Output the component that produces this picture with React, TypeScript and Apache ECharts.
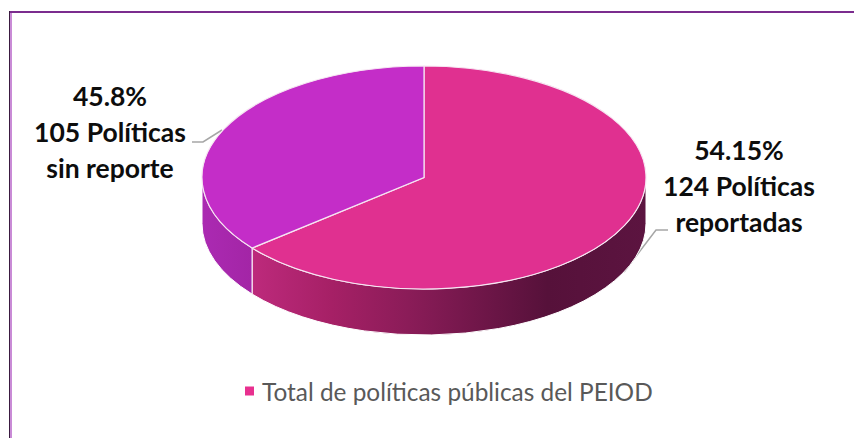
import React, { useEffect, useRef } from "react";
import * as echarts from "echarts";

const seriesName = "Total de políticas públicas del PEIOD";
const sliceNames = ["Políticas reportadas", "Políticas sin reporte"];
// Angular share of each slice as drawn in the picture (percent of the full turn)
const drawnShares = [64.1, 35.9];
const topColors = ["#e03090", "#c42dc8"];
const leftLabel = ["45.8%", "105 Políticas", "sin reporte"];
const rightLabel = ["54.15%", "124 Políticas", "reportadas"];

const CX = 424;
const CY = 177.5;
const RX = 222;
const RY = 111.5;
const DEPTH = 46;
const FONT = "Lato, 'Open Sans', sans-serif";

const pt = (deg: number, dy = 0) => {
  const a = (deg * Math.PI) / 180;
  return [CX + RX * Math.sin(a), CY - RY * Math.cos(a) + dy];
};

const wallFills: any[] = [
  {
    type: "linear", x: 252, y: 0, x2: 646, y2: 0, global: true,
    colorStops: [
      { offset: 0, color: "#bd2a7c" },
      { offset: 0.2, color: "#a62066" },
      { offset: 0.4, color: "#8a1c58" },
      { offset: 0.75, color: "#56113a" },
      { offset: 1, color: "#5c1440" },
    ],
  },
  {
    type: "linear", x: 202, y: 0, x2: 252, y2: 0, global: true,
    colorStops: [
      { offset: 0, color: "#ab2ab2" },
      { offset: 1, color: "#a325a6" },
    ],
  },
];

function renderSlice(params: any, api: any) {
  const i = params.dataIndex;
  const total = drawnShares.reduce((s, v) => s + v, 0);
  let before = 0;
  for (let k = 0; k < i; k++) before += drawnShares[k];
  const start = (before / total) * 360;
  const end = ((before + api.value(0)) / total) * 360;
  const children: any[] = [];

  // Side wall: only the front half of the rim (90..270 degrees from the top) is seen
  const ws = Math.max(start, 90);
  const we = Math.min(end, 270);
  if (we > ws) {
    const [x1, y1] = pt(ws);
    const [x2, y2] = pt(we);
    const d =
      `M${x1} ${y1}A${RX} ${RY} 0 0 1 ${x2} ${y2}` +
      `L${x2} ${y2 + DEPTH}A${RX} ${RY} 0 0 0 ${x1} ${y1 + DEPTH}Z`;
    children.push({
      type: "path",
      shape: { pathData: d },
      style: { fill: wallFills[i], stroke: "#ffffff", lineWidth: 1 },
    });
  }

  // Top face
  const [sx, sy] = pt(start);
  const [ex, ey] = pt(end);
  const large = end - start > 180 ? 1 : 0;
  children.push({
    type: "path",
    shape: {
      pathData: `M${CX} ${CY}L${sx} ${sy}A${RX} ${RY} 0 ${large} 1 ${ex} ${ey}Z`,
    },
    style: { fill: topColors[i], stroke: "#f6e6f2", lineWidth: 1.2 },
  });
  return { type: "group", children };
}

const labelText = (lines: string[], x: number, y: number) => ({
  type: "text",
  x,
  y,
  silent: true,
  style: {
    text: lines.join("\n"),
    font: `bold 26.5px ${FONT}`,
    lineHeight: 36,
    fill: "#0d0d0d",
    textAlign: "center",
    textVerticalAlign: "top",
  },
});

const leader = (points: number[][]) => ({
  type: "polyline",
  silent: true,
  shape: { points },
  style: { stroke: "#a6a6a6", lineWidth: 1.5, fill: "none" },
});

const border = (x: number, y: number, width: number, height: number, fill: string) => ({
  type: "rect",
  silent: true,
  shape: { x, y, width, height },
  style: { fill },
});

export default function App() {
  const ref = useRef<HTMLDivElement>(null);
  useEffect(() => {
    document.body.style.margin = "0";
    const chart = echarts.init(ref.current!, null, { renderer: "svg" });
    chart.setOption({
      animation: false,
      backgroundColor: "#ffffff",
      legend: {
        show: true,
        data: [{ name: seriesName, icon: "rect" }],
        left: 240,
        top: 374,
        itemWidth: 9,
        itemHeight: 9,
        itemGap: 6,
        textStyle: { color: "#595959", fontFamily: FONT, fontSize: 24.4, padding: [0, 0, 0, 3] },
      },
      series: [
        {
          type: "custom",
          name: seriesName,
          coordinateSystem: "none",
          renderItem: renderSlice,
          itemStyle: { color: "#e8308f" },
          data: sliceNames.map((name, i) => ({ name, value: [drawnShares[i]] })),
          silent: true,
        },
      ],
      graphic: [
        border(9, 11, 845, 2, "#7b2c8e"),
        border(9, 11, 1, 427, "#3a1a40"),
        border(10, 13, 2, 425, "#c98bd6"),
        leader([[192, 142], [203, 142], [222, 130]]),
        leader([[668, 230], [656, 230], [624, 272]]),
        labelText(leftLabel, 110, 78),
        labelText(rightLabel, 739, 132),
      ],
    });
    return () => chart.dispose();
  }, []);
  return <div ref={ref} style={{ position: "absolute", left: 0, top: 0, width: 854, height: 438 }} />;
}
